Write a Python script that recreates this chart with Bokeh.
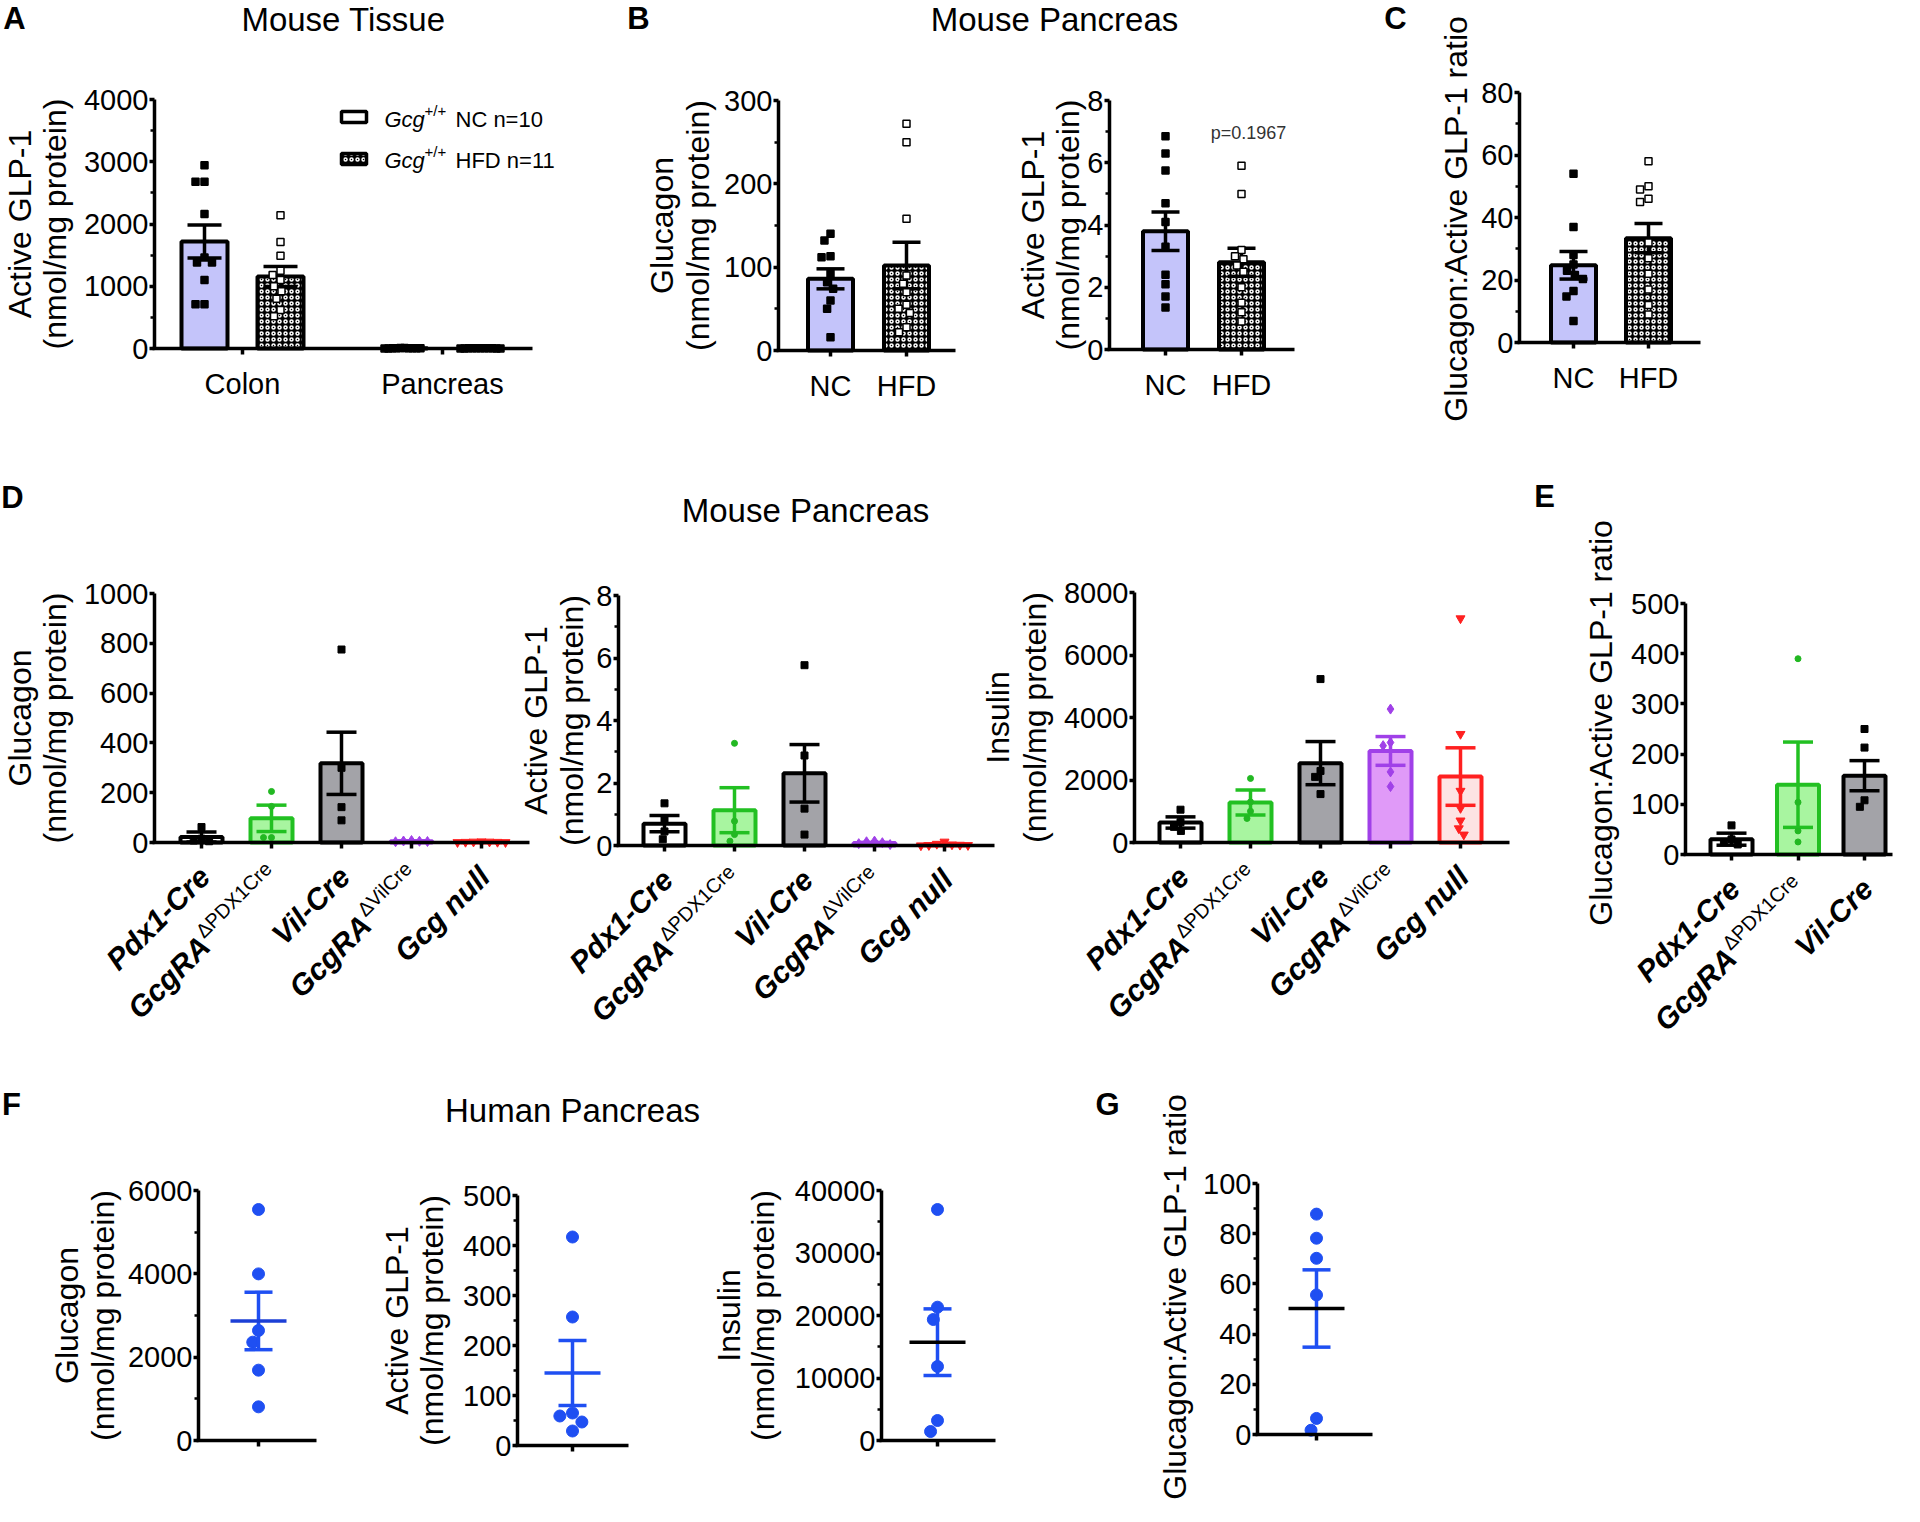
import math
from bokeh.plotting import figure
from bokeh.models import Range1d, FixedTicker, Label, PrintfTickFormatter, LinearAxis, Grid
from bokeh.embed import file_html
from bokeh.resources import INLINE

FONT = "Liberation Sans"

# ======================= DATA =======================
# A: Active GLP-1 (nmol/mg protein), mouse tissue
A_tissues = ["Colon", "Pancreas"]
A_nc_mean = [1720, 3.8]
A_nc_sem = [265, 0.62]
A_hfd_mean = [1157, 2.8]
A_hfd_sem = [160, 0.45]
A_colon_nc = [2945, 2680, 2680, 2160, 1460, 1380, 1380, 1100, 710, 710]
A_colon_hfd = [2140, 1710, 1490, 1250, 1180, 1100, 1000, 920, 800, 620, 520]
A_legend = ["NC n=10", "HFD n=11"]

# B: mouse pancreas, NC vs HFD
B_groups = ["NC", "HFD"]
B_glu_mean = [86, 102]
B_glu_sem = [12, 28]
B_glu_nc = [140, 132, 113, 112, 92, 82, 74, 60, 50, 16]
B_glu_hfd = [272, 250, 158, 90, 80, 70, 55, 50, 45, 28, 22]
B_glp_mean = [3.8, 2.8]
B_glp_sem = [0.62, 0.45]
B_glp_nc = [6.85, 6.3, 5.75, 4.7, 4.1, 3.3, 2.4, 2.1, 1.7, 1.35]
B_glp_hfd = [5.9, 5.0, 3.2, 3.0, 2.9, 2.7, 2.5, 2.0, 1.5, 1.2, 0.9]
B_pvalue = "p=0.1967"

# C: glucagon : active GLP-1 ratio
C_mean = [24.7, 33.4]
C_sem = [4.4, 4.7]
C_nc = [54, 37, 28, 25, 23, 21.6, 20.3, 16.5, 14.7, 6.9]
C_hfd = [58, 50, 49, 46, 45, 32, 27, 22, 17, 12, 9]

# D: mouse pancreas, genotypes
D_main = ["Pdx1-Cre", "GcgRA", "Vil-Cre", "GcgRA", "Gcg null"]
D_sup = ["", "\u0394PDX1Cre", "", "\u0394VilCre", ""]
D_glu_mean = [22, 97, 318, 5, 2]
D_glu_sem = [20, 53, 125, 1.5, 0.8]
D_glu_pts = [[62, 15, 8, 5], [205, 145, 20, 20], [775, 300, 142, 89],
             [8, 6, 5, 4, 3], [4, 3, 3, 2, 2, 1, 1]]
D_glp_mean = [0.70, 1.13, 2.31, 0.08, 0.03]
D_glp_sem = [0.26, 0.72, 0.92, 0.02, 0.01]
D_glp_pts = [[1.35, 0.85, 0.45, 0.2], [3.27, 0.78, 0.35, 0.14], [5.77, 2.88, 1.18, 0.35],
             [0.14, 0.12, 0.09, 0.06, 0.03], [0.12, 0.05, 0.03, 0.02, 0.01, 0.01, 0.0]]
D_ins_mean = [640, 1280, 2540, 2930, 2110]
D_ins_sem = [180, 400, 690, 460, 920]
D_ins_pts = [[1050, 650, 500, 370], [2050, 1300, 1000, 770], [5230, 2290, 2100, 1550],
             [4270, 3200, 3100, 2260, 1790], [7170, 3470, 1650, 1100, 700, 450, 250]]

# E: ratio for the first three genotypes
E_mean = [30.5, 139, 157]
E_sem = [12, 85, 30]
E_pts = [[58, 30, 25, 20], [390, 104, 47, 25], [250, 213, 108, 95]]

# F / G: human pancreas (points; [mean, sem])
F_glu = [5544, 3999, 2640, 2360, 1688, 808]
F_glu_stats = [2870, 690]
F_glp = [417, 257, 65, 59, 47, 29]
F_glp_stats = [145, 65]
F_ins = [36960, 21330, 19360, 11840, 3200, 1440]
F_ins_stats = [15730, 5330]
G_ratio = [87.8, 78.2, 70.2, 55.6, 6.4, 1.7]
G_stats = [50.2, 15.4]

# ======================= STYLE =======================
NC_FILL = "#c4c4fa"
HFD_HATCH = dict(fill_color="black", hatch_pattern="ring", hatch_color="white",
                 hatch_scale=6, hatch_weight=1.5)
# fill, line, marker, point colour, marker size
D_STYLE = [("white", "black", "square", "black", 7),
           ("#a8f5a0", "#22c022", "circle", "#22b822", 6),
           ("#a3a3a8", "black", "square", "black", 7),
           ("#e09af8", "#a040e8", "diamond", "#a040e8", 10),
           ("#fde3e3", "#ff2020", "inverted_triangle", "#ff2020", 9)]
BLUE = "#1f4ff2"
TICK_SIZE = "29px"
YT = 32      # axis title size
TT = 33      # panel title size
LT = 31      # panel letter size
ARIAL_W = {"\u0394": 0.668, "P": 0.667, "D": 0.722, "X": 0.667, "1": 0.556, "C": 0.722,
           "r": 0.333, "e": 0.556, "V": 0.667, "i": 0.222, "l": 0.222}


def text_w(s, size):
    return sum(ARIAL_W.get(ch, 0.56) for ch in s) * size


# one canvas in page pixels (y downwards)
P = figure(width=1904, height=1506, x_range=Range1d(8, 1912), y_range=Range1d(1514, 8),
           min_border=0, min_border_left=0, min_border_right=0, min_border_top=0,
           min_border_bottom=0, toolbar_location=None, output_backend="svg",
           x_axis_location=None, y_axis_location=None)
P.outline_line_color = None
P.background_fill_color = "white"
P.border_fill_color = "white"
for g in P.select(type=Grid):
    g.visible = False


def txt(x, y, s, size, style="normal", angle=0.0, align="center", baseline="middle",
        color="black"):
    P.add_layout(Label(x=x, y=y, text=s, angle=angle, text_align=align,
                       text_baseline=baseline, text_font=FONT,
                       text_font_size=f"{size}px", text_font_style=style,
                       text_color=color))


class Panel:
    def __init__(self, name, frame, ymax, first_tick, spacing):
        self.fx0, self.fx1, self.ftop, self.fzero = frame
        self.first, self.ppx = first_tick, spacing
        self.ymax = ymax
        self.ppy = (self.fzero - self.ftop) / ymax
        self.xn, self.yn = name + "_x", name + "_y"
        P.extra_x_ranges[self.xn] = Range1d((8 - first_tick) / spacing,
                                            (1912 - first_tick) / spacing)
        P.extra_y_ranges[self.yn] = Range1d((self.fzero - 1514) / self.ppy,
                                            (self.fzero - 8) / self.ppy)
        self.kw = dict(x_range_name=self.xn, y_range_name=self.yn)

    def X(self, rx):
        return (rx - self.first) / self.ppx

    def axes(self, yticks, yminor, ncat, xlabels=None):
        ya = LinearAxis(fixed_location=self.X(self.fx0), bounds=(0, self.ymax),
                        ticker=FixedTicker(ticks=yticks, minor_ticks=yminor),
                        formatter=PrintfTickFormatter(format="%d"), **self.kw)
        xa = LinearAxis(fixed_location=0, bounds=(self.X(self.fx0 - 2), self.X(self.fx1)),
                        ticker=FixedTicker(ticks=list(range(ncat)), minor_ticks=[]),
                        major_label_overrides={i: (xlabels[i] if xlabels else "")
                                               for i in range(ncat)}, **self.kw)
        for ax in (ya, xa):
            ax.axis_line_width = 3.5
            ax.axis_line_color = "black"
            ax.major_tick_line_width = 3.5
            ax.major_tick_in = 0
            ax.minor_tick_line_width = 2.5
            ax.minor_tick_out = 4
            ax.minor_tick_in = 0
            ax.major_label_text_font = FONT
            ax.major_label_text_font_size = TICK_SIZE
            ax.major_label_text_color = "black"
        ya.major_tick_out = 5
        ya.major_label_standoff = 1
        xa.major_tick_out = 6
        xa.major_label_standoff = 13
        P.add_layout(ya, "left")
        P.add_layout(xa, "below")

    def ylabels(self, items, yc=None):
        if yc is None:
            yc = (self.ftop + self.fzero) / 2
        for rx, s in items:
            txt(rx, yc, s, YT, angle=math.pi / 2)

    def bars(self, xs, tops, width_px, **kw):
        kw.setdefault("line_width", 4)
        P.vbar(x=xs, top=tops, bottom=0, width=(width_px - 4) / self.ppx, **kw, **self.kw)

    def err(self, xs, means, sems, color, cap_px=30, lw=3.5):
        hc = cap_px / 2 / self.ppx
        lo = [max(0, m - s) for m, s in zip(means, sems)]
        hi = [m + s for m, s in zip(means, sems)]
        P.segment(x0=xs, y0=lo, x1=xs, y1=hi, line_color=color, line_width=lw, **self.kw)
        for ys in (hi, lo):
            P.segment(x0=[x - hc for x in xs], y0=ys, x1=[x + hc for x in xs], y1=ys,
                      line_color=color, line_width=lw, **self.kw)

    def swarm(self, xc, vals, d):
        placed, xs = [], []
        for v in vals:
            y = v * self.ppy
            cands = [0.0]
            for (px, py) in placed:
                dy = abs(py - y)
                if dy < d:
                    dx = math.sqrt(d * d - dy * dy)
                    cands.extend([px - dx, px + dx])
            cands.sort(key=lambda c: (round(abs(c), 6), c))
            chosen = cands[-1]
            for c in cands:
                if all((c - px) ** 2 + (y - py) ** 2 >= d * d - 1e-6 for px, py in placed):
                    chosen = c
                    break
            placed.append((chosen, y))
            xs.append(xc + chosen / self.ppx)
        return xs

    def points(self, xc, vals, marker, size, fill, line, d, lw=1.5):
        xs = self.swarm(xc, vals, d)
        P.scatter(x=xs, y=vals, marker=marker, size=size, fill_color=fill,
                  line_color=line, line_width=lw, **self.kw)

    def cat_labels(self, ncat, mains, sups, size=30, sup_size=20):
        ux, uy = math.cos(math.pi / 4), -math.sin(math.pi / 4)
        vx, vy = -0.7071, -0.7071
        for i in range(ncat):
            ax = self.first + i * self.ppx + 3
            ay = self.fzero + 29
            if sups[i]:
                txt(ax + vx * 9, ay + vy * 9, sups[i], sup_size, "normal",
                    angle=math.pi / 4, align="right")
                w = text_w(sups[i], sup_size) + 1
                txt(ax - ux * w, ay - uy * w, mains[i], size, "bold italic",
                    angle=math.pi / 4, align="right")
            else:
                txt(ax, ay, mains[i], size, "bold italic", angle=math.pi / 4, align="right")


# ======================= ROW 1 =======================
txt(22, 26, "A", LT, "bold")
txt(351, 27, "Mouse Tissue", TT)
txt(646, 26, "B", LT, "bold")
txt(1062, 27, "Mouse Pancreas", TT)
txt(1403, 26, "C", LT, "bold")

pa = Panel("A", (162, 540, 107, 356), 4000, 250, 200)
pa.axes([0, 1000, 2000, 3000, 4000], [500, 1500, 2500, 3500], 2, A_tissues)
pa.ylabels([(27, "Active GLP-1"), (62, "(nmol/mg protein)")])
off = 38 / 200
xnc = [i - off for i in range(2)]
xhf = [i + off for i in range(2)]
pa.bars(xnc, A_nc_mean, 50, fill_color=NC_FILL, line_color="black")
pa.bars(xhf, A_hfd_mean, 50, line_color="black", **HFD_HATCH)
pa.err(xnc, A_nc_mean, A_nc_sem, "black", 34)
pa.err(xhf, A_hfd_mean, A_hfd_sem, "black", 34)
pa.points(xnc[0], A_colon_nc, "square", 7, "black", "black", 9)
pa.points(xhf[0], A_colon_hfd, "square", 7, "white", "black", 9)
pa.points(xnc[1], B_glp_nc, "square", 7, "black", "black", 4)
pa.points(xhf[1], B_glp_hfd, "square", 7, "black", "black", 4)
# legend swatches (page pixels)
P.quad(left=[349], right=[374], top=[119], bottom=[130], fill_color="white",
       line_color="black", line_width=3.5)
P.quad(left=[349], right=[374], top=[161], bottom=[172], line_color="black",
       line_width=3.5, **HFD_HATCH)
for k, yy in enumerate([127, 168]):
    txt(392, yy, "Gcg", 22, "italic", align="left")
    txt(432, yy - 9, "+/+", 15, align="left")
    txt(463, yy, A_legend[k], 22, align="left")

pb1 = Panel("B1", (786, 963, 108, 358), 300, 838, 76)
pb1.axes([0, 100, 200, 300], [50, 150, 250], 2, B_groups)
pb1.ylabels([(669, "Glucagon"), (705, "(nmol/mg protein)")])
pb1.bars([0], [B_glu_mean[0]], 49, fill_color=NC_FILL, line_color="black")
pb1.bars([1], [B_glu_mean[1]], 49, line_color="black", **HFD_HATCH)
pb1.err([0, 1], B_glu_mean, B_glu_sem, "black", 28)
pb1.points(0, B_glu_nc, "square", 7, "black", "black", 9)
pb1.points(1, B_glu_hfd, "square", 7, "white", "black", 9)

pb2 = Panel("B2", (1117, 1302, 108, 357), 8, 1173, 76)
pb2.axes([0, 2, 4, 6, 8], [1, 3, 5, 7], 2, B_groups)
pb2.ylabels([(1040, "Active GLP-1"), (1075, "(nmol/mg protein)")])
pb2.bars([0], [B_glp_mean[0]], 49, fill_color=NC_FILL, line_color="black")
pb2.bars([1], [B_glp_mean[1]], 49, line_color="black", **HFD_HATCH)
pb2.err([0, 1], B_glp_mean, B_glp_sem, "black", 28)
pb2.points(0, B_glp_nc, "square", 7, "black", "black", 9)
pb2.points(1, B_glp_hfd, "square", 7, "white", "black", 9)
txt(1256, 140, B_pvalue, 18, color="#333333")

pc = Panel("C", (1527, 1708, 100, 350), 80, 1581, 75)
pc.axes([0, 20, 40, 60, 80], [10, 30, 50, 70], 2, B_groups)
pc.ylabels([(1463, "Glucagon:Active GLP-1  ratio")], yc=222)
pc.bars([0], [C_mean[0]], 49, fill_color=NC_FILL, line_color="black")
pc.bars([1], [C_mean[1]], 49, line_color="black", **HFD_HATCH)
pc.err([0, 1], C_mean, C_sem, "black", 28)
pc.points(0, C_nc, "square", 7, "black", "black", 9)
pc.points(1, C_hfd, "square", 7, "white", "black", 9)

# ======================= ROW 2 =======================
txt(20, 505, "D", LT, "bold")
txt(813, 518, "Mouse Pancreas", TT)
txt(1552, 504, "E", LT, "bold")


def d_panel(Pn, means, sems, pts, ncat):
    for i in range(ncat):
        fill, line, marker, pcol, msz = D_STYLE[i]
        Pn.bars([i], [means[i]], 46, fill_color=fill, line_color=line)
    for i in range(ncat):
        fill, line, marker, pcol, msz = D_STYLE[i]
        Pn.err([i], [means[i]], [sems[i]], line, 30)
    for i in range(ncat):
        fill, line, marker, pcol, msz = D_STYLE[i]
        Pn.points(i, pts[i], marker, msz, pcol, pcol, 8, lw=1)
    Pn.cat_labels(ncat, D_main, D_sup)


pd1 = Panel("D1", (162, 537, 601, 850), 1000, 209, 70)
pd1.axes([0, 200, 400, 600, 800, 1000], [], 5)
pd1.ylabels([(27, "Glucagon"), (62, "(nmol/mg protein)")])
d_panel(pd1, D_glu_mean, D_glu_sem, D_glu_pts, 5)

pd2 = Panel("D2", (626, 1002, 603, 853), 8, 672, 70)
pd2.axes([0, 2, 4, 6, 8], [1, 3, 5, 7], 5)
pd2.ylabels([(543, "Active GLP-1"), (579, "(nmol/mg protein)")])
d_panel(pd2, D_glp_mean, D_glp_sem, D_glp_pts, 5)

pd3 = Panel("D3", (1142, 1517, 600, 850), 8000, 1188, 70)
pd3.axes([0, 2000, 4000, 6000, 8000], [], 5)
pd3.ylabels([(1005, "Insulin"), (1042, "(nmol/mg protein)")])
d_panel(pd3, D_ins_mean, D_ins_sem, D_ins_pts, 5)

pe = Panel("E", (1693, 1900, 611, 862), 500, 1739, 66.5)
pe.axes([0, 100, 200, 300, 400, 500], [], 3)
pe.ylabels([(1608, "Glucagon:Active GLP-1  ratio")], yc=726)
d_panel(pe, E_mean, E_sem, E_pts, 3)

# ======================= ROW 3 =======================
txt(19, 1112, "F", LT, "bold")
txt(580, 1118, "Human Pancreas", TT)
txt(1115, 1112, "G", LT, "bold")


def f_panel(Pn, vals, stats, mean_color):
    m, s = stats
    Pn.points(0, vals, "circle", 12, BLUE, BLUE, 13, lw=1)
    Pn.err([0], [m], [s], BLUE, 28, 3.5)
    hw = 28 / Pn.ppx
    P.segment(x0=[-hw], y0=[m], x1=[hw], y1=[m], line_color=mean_color, line_width=3.5,
              **Pn.kw)


pf1 = Panel("F1", (206, 324, 1198, 1448), 6000, 266, 100)
pf1.axes([0, 2000, 4000, 6000], [1000, 3000, 5000], 1)
pf1.ylabels([(74, "Glucagon"), (110, "(nmol/mg protein)")])
f_panel(pf1, F_glu, F_glu_stats, "#1c3fd6")

pf2 = Panel("F2", (525, 636, 1203, 1453), 500, 580, 100)
pf2.axes([0, 100, 200, 300, 400, 500], [50, 150, 250, 350, 450], 1)
pf2.ylabels([(404, "Active GLP-1"), (439, "(nmol/mg protein)")])
f_panel(pf2, F_glp, F_glp_stats, BLUE)

pf3 = Panel("F3", (889, 1003, 1198, 1448), 40000, 945, 100)
pf3.axes([0, 10000, 20000, 30000, 40000], [5000, 15000, 25000, 35000], 1)
pf3.ylabels([(736, "Insulin"), (770, "(nmol/mg protein)")])
f_panel(pf3, F_ins, F_ins_stats, "black")

pg = Panel("G", (1265, 1380, 1191, 1442), 100, 1324, 100)
pg.axes([0, 20, 40, 60, 80, 100], [10, 30, 50, 70, 90], 1)
pg.ylabels([(1182, "Glucagon:Active GLP-1  ratio")], yc=1300)
f_panel(pg, G_ratio, G_stats, "black")

open("out.html", "w").write(file_html(P, INLINE, title="GLP-1 and glucagon content"))
